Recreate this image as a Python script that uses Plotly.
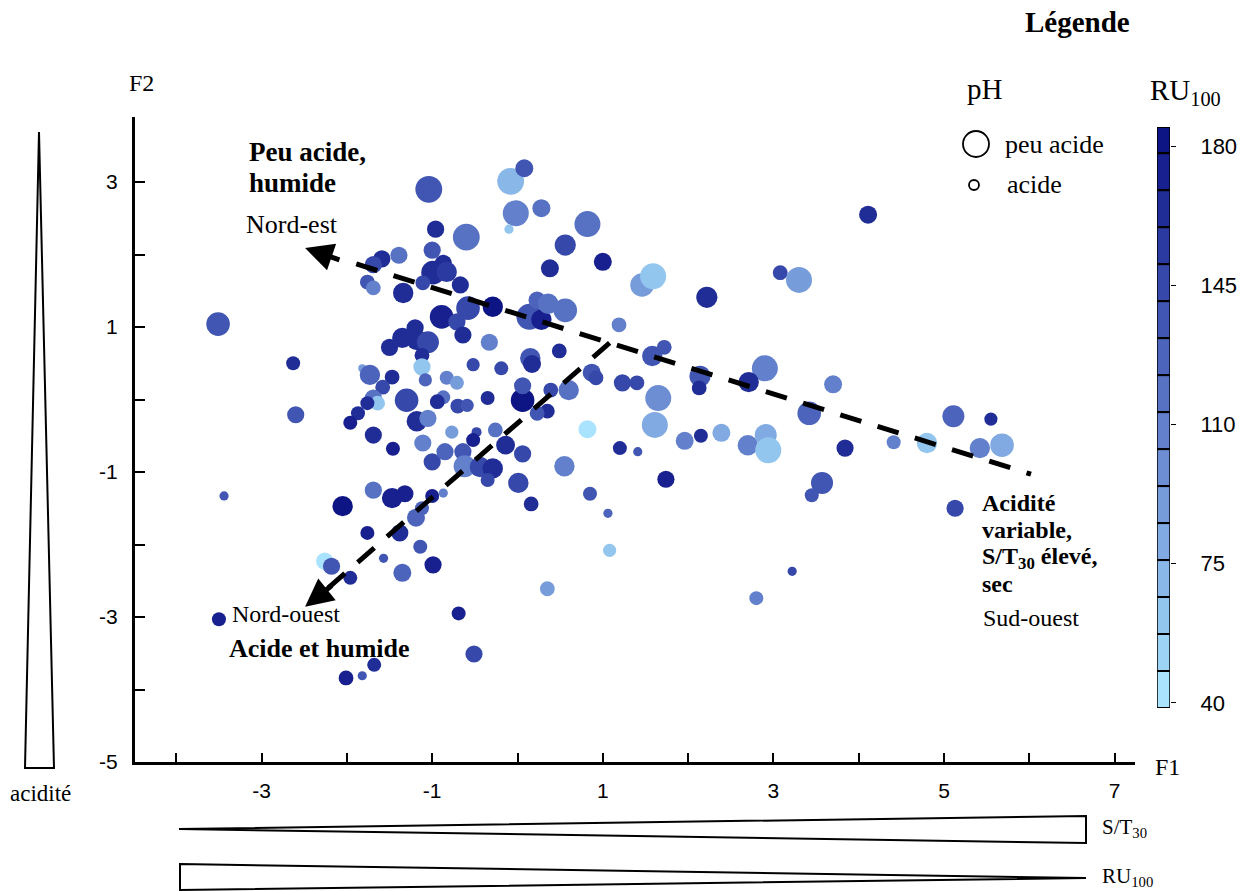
import plotly.graph_objects as go

# ---------------- data ----------------
F1 = [-3.51, -1.04, -0.96, -0.60, -0.08, -0.10, 0.08, -0.02, 0.28, 0.82,
      0.56, 0.38, 1.00, 1.46, 1.59, 2.22, 3.08, 3.30, 4.11, 0.14,
      0.28, 0.23, 0.36, 0.56, 1.19, 0.49, 0.15, 0.17, 1.72, 1.58,
      2.14, 2.13, 1.40, 1.23, 1.65, 2.90, 2.71, 3.70, 3.42, 5.11,
      0.60, 0.39, 0.06, 0.06, 0.35, 0.23, 0.82, 1.61, 1.96, 2.15,
      2.39, 2.70, 2.91, 2.94, 3.84, 4.41, 4.80, -0.14, 0.06, 0.01,
      0.16, 0.55, 0.85, 1.06, 1.08, 0.35, 1.20, 1.41, 1.74, 3.57,
      3.45, 3.22, 2.80, 5.55, 5.42, 5.68, 5.13, -2.63, -2.60, -1.59,
      -1.69, -1.39, -1.76, -1.69, -1.34, -1.00, -0.87, -0.99, -0.83, -1.11,
      -0.67, -0.29, -0.58, -0.89, -0.71, -0.64, -1.20, -1.35, -1.50, -1.18,
      -1.05, -1.12, -0.33, -1.12, -1.82, -1.73, -1.47, -0.83, -0.71, -0.52,
      -0.19, -1.58, -1.08, -1.30, -0.87, -0.94, -0.70, -0.59, -0.35, -1.69,
      -1.64, -1.76, -1.87, -1.96, -1.69, -1.18, -1.05, -1.11, -0.77, -0.48,
      -0.52, -0.26, -3.44, -3.50, -1.46, -1.00, -0.85, -0.64, -0.62, -0.44,
      -0.29, -0.35, -1.69, -1.47, -1.32, -2.05, -1.00, -0.87, -1.12, -1.19,
      -1.76, -1.38, -1.14, -1.57, -2.26, -2.18, -1.96, -1.35, -0.99, -0.69,
      -0.51, -1.68, -1.82, -2.01, 0.87, 0.92]
F2 = [1.04, 2.90, 2.35, 2.24, 3.01, 2.35, 3.19, 2.57, 2.64, 2.42,
      2.13, 1.81, 1.90, 1.58, 1.70, 1.41, 1.75, 1.65, 2.55, 1.14,
      1.10, 1.37, 1.32, 1.23, 1.03, 0.67, 0.57, 0.49, 0.72, 0.60,
      0.32, 0.16, 0.23, 0.23, 0.02, 0.43, 0.24, 0.21, -0.19, -0.23,
      0.13, 0.13, -0.01, 0.19, -0.16, -0.19, -0.41, -0.35, -0.57, -0.50,
      -0.46, -0.63, -0.49, -0.70, -0.67, -0.59, -0.60, -0.63, -0.75, -1.15,
      -1.44, -0.92, -1.30, -1.57, -2.08, -2.61, -0.67, -0.72, -1.10, -1.15,
      -1.32, -2.37, -2.74, -0.27, -0.67, -0.63, -1.50, 0.50, -0.21, 1.94,
      1.86, 1.99, 1.62, 1.54, 1.47, 2.06, 1.88, 1.75, 1.76, 1.61,
      1.58, 1.28, 1.26, 1.14, 1.07, 0.89, 0.99, 0.85, 0.72, 0.82,
      0.79, 0.61, 0.79, 0.45, 0.43, 0.34, 0.31, 0.30, 0.23, 0.48,
      0.43, 0.17, 0.27, -0.01, 0.03, -0.03, -0.09, -0.08, 0.02, 0.02,
      -0.05, -0.05, -0.19, -0.32, -0.49, -0.30, -0.26, -0.60, -0.45, -0.45,
      -0.56, -0.42, -1.33, -3.03, -0.68, -0.86, -0.72, -0.72, -0.92, -0.93,
      -0.95, -1.11, -1.25, -1.36, -1.30, -1.47, -1.33, -1.29, -1.50, -1.63,
      -1.84, -1.84, -2.03, -2.19, -2.23, -2.30, -2.46, -2.39, -2.28, -2.95,
      -3.51, -3.66, -3.81, -3.84, 0.37, 0.30]
pH = [6.2, 6.6, 5.4, 6.6, 6.6, 4.4, 5.5, 6.5, 5.5, 6.5,
      5.9, 5.5, 5.5, 6.2, 6.5, 5.9, 5.1, 6.5, 5.5, 6.5,
      5.8, 5.4, 5.8, 6.2, 5.1, 5.1, 5.8, 5.5, 5.1, 5.8,
      5.9, 5.1, 5.1, 5.4, 6.5, 6.5, 5.8, 5.5, 6.2, 6.0,
      5.8, 5.1, 6.2, 5.4, 5.1, 5.1, 5.5, 6.5, 5.5, 5.0,
      5.5, 5.8, 6.0, 6.5, 5.4, 5.0, 5.8, 5.6, 5.4, 5.8,
      5.1, 5.8, 5.0, 4.4, 4.9, 5.1, 5.0, 4.4, 5.4, 6.0,
      5.0, 4.4, 5.0, 4.9, 5.8, 6.2, 5.4, 5.0, 5.4, 5.4,
      5.4, 5.4, 5.1, 5.1, 5.8, 5.4, 5.4, 6.2, 5.8, 5.1,
      5.4, 5.8, 6.2, 6.2, 5.4, 5.4, 5.4, 5.8, 5.4, 5.8,
      6.0, 5.1, 5.4, 5.4, 4.25, 5.8, 5.1, 5.0, 5.0, 4.9,
      5.0, 5.1, 4.9, 6.2, 5.0, 5.1, 5.1, 4.9, 5.0, 5.4,
      5.1, 5.0, 5.0, 5.0, 5.4, 5.8, 5.4, 5.4, 4.9, 4.5,
      5.0, 5.1, 4.4, 5.0, 5.0, 5.4, 5.4, 5.4, 6.0, 5.8,
      5.8, 5.0, 5.4, 5.8, 5.4, 5.8, 5.0, 4.4, 5.0, 5.5,
      5.0, 5.4, 5.0, 4.4, 5.4, 5.4, 5.0, 5.5, 5.4, 5.0,
      5.4, 5.0, 4.4, 5.1, 5.5, 5.1]
RU100 = [135, 135, 165, 120, 75, 60, 135, 105, 120, 120,
         150, 160, 170, 90, 65, 160, 150, 90, 160, 135,
         175, 130, 120, 120, 110, 165, 135, 160, 135, 140,
         135, 165, 150, 150, 95, 105, 160, 105, 130, 125,
         120, 150, 180, 135, 160, 135, 45, 80, 105, 160,
         80, 105, 80, 65, 165, 105, 65, 165, 150, 150,
         165, 110, 135, 130, 65, 90, 165, 135, 175, 135,
         135, 150, 105, 165, 105, 80, 150, 165, 135, 165,
         150, 120, 135, 110, 160, 135, 160, 160, 155, 150,
         165, 180, 150, 170, 150, 160, 165, 160, 165, 160,
         150, 165, 110, 65, 90, 130, 165, 110, 90, 150,
         150, 150, 130, 150, 120, 165, 150, 135, 160, 120,
         65, 165, 165, 170, 165, 165, 105, 105, 90, 150,
         170, 120, 135, 170, 170, 150, 130, 135, 105, 150,
         160, 150, 120, 175, 170, 180, 175, 105, 130, 130,
         170, 165, 135, 135, 45, 135, 165, 130, 170, 170,
         150, 160, 135, 170, 135, 150]

# gradient arrows (F1, F2): dashed segment, short solid stub and arrow tip
NE_line_F1 = [-1.89, 6.02]
NE_line_F2 = [1.87, -1.03]
NE_stub = (-2.07, 1.92)
NE_tip = (-2.49, 2.09)
NW_line_F1 = [1.08, -2.22]
NW_line_F2 = [0.78, -2.60]
NW_stub = (-2.16, -2.55)
NW_tip = (-2.49, -2.86)

# colour classes of RU100
ru_band_edges = [38.7, 48.0, 57.3, 66.6, 75.9, 85.2, 94.5, 103.8, 113.1,
                 122.4, 131.7, 141.0, 150.3, 159.6, 168.9, 178.2, 184.8]
ru_band_colors = ["#aae3fd", "#9dd4f5", "#93c6ef", "#89b8e8", "#80aae1",
                  "#779cda", "#6d8ed3", "#6280cb", "#5772c3", "#4c64bb",
                  "#4156b2", "#3648a9", "#2b3aa0", "#212d97", "#17208e",
                  "#0d1483"]
ru_ticks = [40, 75, 110, 145, 180]

x_ticks = list(range(-4, 8))
y_ticks = list(range(-5, 4))

# ---------------- layout helpers ----------------
W, H = 1251, 891
ML, MR, MT, MB = 135, 10, 117, 129
PW, PH_ = W - ML - MR, H - MT - MB


def px(x):
    return (x - ML) / PW


def py(y):
    return (H - MB - y) / PH_


cmin, cmax = ru_band_edges[0], ru_band_edges[-1]
scale = []
for i, c in enumerate(ru_band_colors):
    a = (ru_band_edges[i] - cmin) / (cmax - cmin)
    b = (ru_band_edges[i + 1] - cmin) / (cmax - cmin)
    scale.append([a, c])
    scale.append([b, c])

sizes = [6 + 8 * (p - 4.0) for p in pH]

fig = go.Figure()

fig.add_trace(go.Scatter(
    x=F1, y=F2, mode="markers",
    marker=dict(size=sizes, color=RU100, coloraxis="coloraxis",
                line=dict(width=0), opacity=1),
    hoverinfo="skip", showlegend=False))

dash_style = dict(color="black", width=5, dash="22px,17px")
fig.add_trace(go.Scatter(x=NE_line_F1, y=NE_line_F2, mode="lines",
                         line=dash_style, hoverinfo="skip", showlegend=False))
fig.add_trace(go.Scatter(x=NW_line_F1, y=NW_line_F2, mode="lines",
                         line=dash_style, hoverinfo="skip", showlegend=False))

# colour key drawn as heatmap on its own axis (gaps show black backing)
mids = [(ru_band_edges[i] + ru_band_edges[i + 1]) / 2 for i in range(len(ru_band_colors))]
fig.add_trace(go.Heatmap(x=[0, 1], y=ru_band_edges, z=[[m] for m in mids],
                         coloraxis="coloraxis", xaxis="x2", yaxis="y2",
                         ygap=2, hoverinfo="skip"))

serif = "Liberation Serif"
sans = "Liberation Sans"

annotations = []


def txt(text, x, baseline, size, anchor="left"):
    annotations.append(dict(
        text=text, x=px(x), y=py(baseline - 0.33 * size), xref="paper", yref="paper",
        xanchor=anchor, yanchor="middle", showarrow=False,
        font=dict(family=serif, size=size, color="black")))


txt("F2", 127, 91, 24)
txt("F1", 1153, 775, 24)
txt("<b>Peu acide,</b>", 247, 161, 27)
txt("<b>humide</b>", 247, 192, 27)
txt("Nord-est", 244, 233, 26)
txt("Nord-ouest", 230, 622, 24)
txt("<b>Acide et humide</b>", 227, 657, 26)
txt("<b>Acidité</b>", 980, 511, 24)
txt("<b>variable,</b>", 980, 538, 24)
txt("<b>S/T<sub>30</sub> élevé,</b>", 980, 566, 24)
txt("<b>sec</b>", 980, 592, 24)
txt("Sud-ouest", 981, 626, 24)
txt("<b>Légende</b>", 1023, 32, 29)
txt("pH", 965, 99, 29)
txt("RU<sub>100</sub>", 1148, 102, 29)
txt("peu acide", 1003, 153, 26)
txt("acide", 1005, 193, 26)
txt("acidité", 40, 801, 23, anchor="center")
txt("S/T<sub>30</sub>", 1100, 835, 21)
txt("RU<sub>100</sub>", 1100, 884, 21)

# arrow heads with a short solid stub
for tip, stub in ((NE_tip, NE_stub), (NW_tip, NW_stub)):
    annotations.append(dict(
        x=tip[0], y=tip[1], ax=stub[0], ay=stub[1], xref="x", yref="y",
        axref="x", ayref="y",
        showarrow=True, arrowhead=2, arrowsize=1.12, arrowwidth=5, arrowcolor="black",
        standoff=0, text=""))

shapes = []
# pH key circles
shapes.append(dict(type="circle", xref="paper", yref="paper",
                   x0=px(963), x1=px(989), y0=py(157), y1=py(131),
                   line=dict(color="black", width=1.8)))
shapes.append(dict(type="circle", xref="paper", yref="paper",
                   x0=px(969), x1=px(979), y0=py(190), y1=py(180),
                   line=dict(color="black", width=1.8)))
# colour key: black backing, class separators and outline
shapes.append(dict(type="rect", xref="x2", yref="y2", x0=0, x1=1, y0=cmin, y1=cmax,
                   layer="below", fillcolor="black", line=dict(width=0)))
for e in ru_band_edges[1:-1]:
    shapes.append(dict(type="line", xref="x2", yref="y2", x0=0, x1=1, y0=e, y1=e,
                       layer="above", line=dict(color="black", width=2)))
shapes.append(dict(type="rect", xref="x2", yref="y2", x0=0, x1=1, y0=cmin, y1=cmax,
                   layer="above", line=dict(color="black", width=1.5)))


def tri(pts):
    p = "M " + " L ".join(f"{px(a):.5f},{py(b):.5f}" for a, b in pts) + " Z"
    return dict(type="path", xref="paper", yref="paper", path=p,
                line=dict(color="black", width=2), fillcolor="rgba(0,0,0,0)")


shapes.append(tri([(39, 132), (54, 768), (25, 768)]))
shapes.append(tri([(179, 829), (1086, 816), (1086, 843)]))
shapes.append(tri([(180, 864), (1086, 878), (180, 890)]))

fig.update_layout(
    width=W, height=H,
    margin=dict(l=ML, r=MR, t=MT, b=MB, pad=0),
    paper_bgcolor="white", plot_bgcolor="white",
    font=dict(family=sans, color="black"),
    showlegend=False,
    coloraxis=dict(colorscale=scale, cmin=cmin, cmax=cmax, showscale=False),
    xaxis=dict(domain=[0, 1000 / PW], range=[-4.484, 7.239], anchor="y",
               showgrid=False, zeroline=False, showline=True, linecolor="black",
               linewidth=3, ticks="inside", ticklen=9, tickwidth=1.5, tickcolor="black",
               tickvals=x_ticks, ticktext=[str(v) if v % 2 else "" for v in x_ticks],
               tickfont=dict(family=sans, size=21), ticklabelstandoff=8),
    yaxis=dict(domain=[0, 1], range=[-5, 3.897], anchor="x",
               showgrid=False, zeroline=False, showline=True, linecolor="black",
               linewidth=3, ticks="inside", ticklen=10, tickwidth=1.5, tickcolor="black",
               tickvals=y_ticks, ticktext=[str(v) if v % 2 else "" for v in y_ticks],
               tickfont=dict(family=sans, size=21), ticklabelstandoff=10),
    xaxis2=dict(domain=[px(1157), px(1170)], range=[0, 1], anchor="y2",
                showgrid=False, zeroline=False, showline=False, ticks="",
                showticklabels=False, fixedrange=True),
    yaxis2=dict(domain=[py(708), py(127)], range=[cmin, cmax], anchor="x2",
                side="right", showgrid=False, zeroline=False, showline=False,
                ticks="outside", ticklen=5, tickwidth=1, tickcolor="black",
                tickvals=ru_ticks, tickfont=dict(family=sans, size=22),
                ticklabelstandoff=20),
    annotations=annotations,
    shapes=shapes,
)

fig.write_html("out.html")
